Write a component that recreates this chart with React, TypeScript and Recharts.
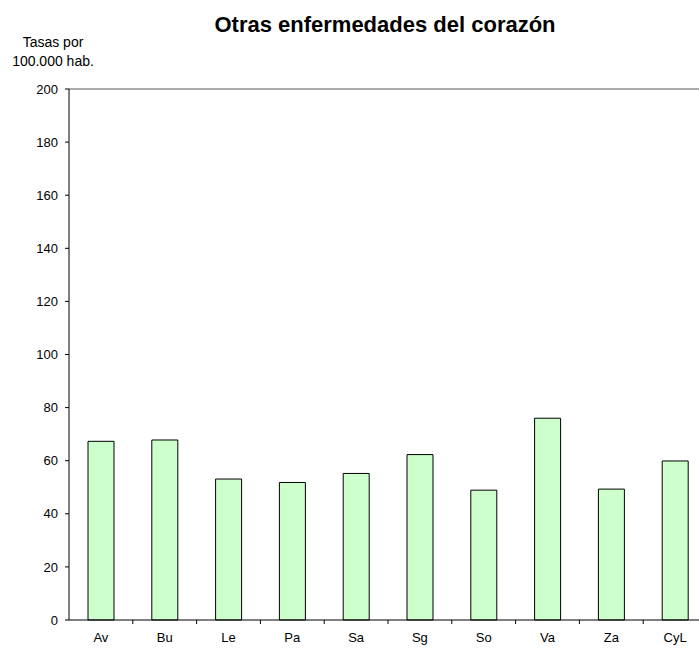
import { BarChart, Bar, XAxis, YAxis, ReferenceLine } from 'recharts';

const provinces = ['Av', 'Bu', 'Le', 'Pa', 'Sa', 'Sg', 'So', 'Va', 'Za', 'CyL'];
const rates = [67.3, 67.8, 53.1, 51.8, 55.2, 62.3, 48.9, 76.0, 49.3, 59.9];
const yTicks = [0, 20, 40, 60, 80, 100, 120, 140, 160, 180, 200];

const CHART_W = 707;
const CHART_H = 648;
const Y_AXIS_W = 69;
const X_AXIS_H = 28;
const TOP = 89;

const data = provinces.map((p, i) => ({ name: p, rate: rates[i] }));

const font = 'Arial, "Liberation Sans", sans-serif';

// label plus a small tick at the right edge of each category
function CategoryTick(props: any) {
  const { x, y, payload, index } = props;
  const half = (CHART_W - Y_AXIS_W) / provinces.length / 2;
  const axisY = CHART_H - X_AXIS_H;
  return (
    <g>
      {index < provinces.length - 1 && (
        <line x1={x + half} x2={x + half} y1={axisY} y2={axisY + 4} stroke="#000" />
      )}
      <text x={x} y={y} dy="0.71em" textAnchor="middle" fontSize={13} fill="#000" fontFamily={font}>
        {payload.value}
      </text>
    </g>
  );
}

export default function App() {
  return (
    <div style={{ position: 'absolute', left: 0, top: 0, width: 699, height: 648, overflow: 'hidden', background: '#fff' }}>
      <div style={{ position: 'absolute', left: 0, width: 770, top: 12, textAlign: 'center', fontFamily: font, fontWeight: 'bold', fontSize: 22 }}>
        Otras enfermedades del corazón
      </div>
      <div style={{ position: 'absolute', left: 0, width: 106, top: 33, textAlign: 'center', fontFamily: font, fontSize: 14, lineHeight: '19px' }}>
        Tasas por<br />100.000 hab.
      </div>
      <BarChart
        width={CHART_W}
        height={CHART_H}
        data={data}
        margin={{ top: TOP, right: 0, bottom: 0, left: 0 }}
        barSize={26}
      >
        <ReferenceLine y={200} stroke="#555" />
        <XAxis
          dataKey="name"
          height={X_AXIS_H}
          interval={0}
          tickLine={false}
          tickSize={0}
          tickMargin={13}
          axisLine={{ stroke: '#000' }}
          tick={<CategoryTick />}
        />
        <YAxis
          width={Y_AXIS_W}
          domain={[0, 200]}
          ticks={yTicks}
          interval={0}
          tickSize={4}
          tickMargin={7}
          axisLine={{ stroke: '#000' }}
          tickLine={{ stroke: '#000' }}
          tick={{ fontSize: 13, fill: '#000', fontFamily: font }}
        />
        <Bar dataKey="rate" fill="#CCFFCC" stroke="#000" strokeWidth={1} isAnimationActive={false} />
      </BarChart>
    </div>
  );
}
